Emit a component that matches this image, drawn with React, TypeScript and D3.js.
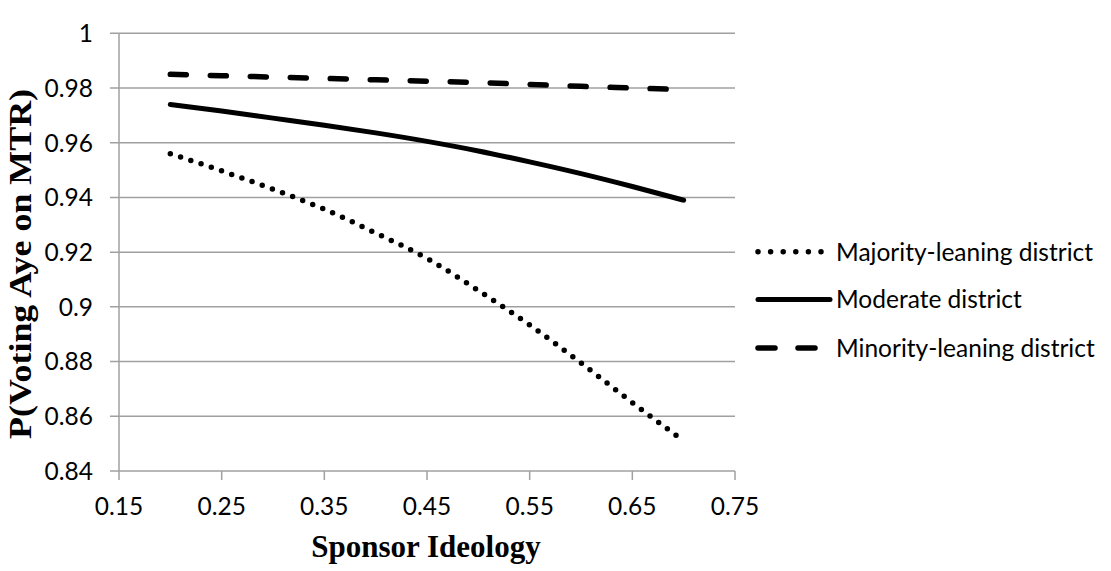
import React from "react";
import * as d3 from "d3";

const ideology = [0.2, 0.25, 0.3, 0.35, 0.4, 0.45, 0.5, 0.55, 0.6, 0.65, 0.7];
const majority = [0.956, 0.9497, 0.943, 0.9357, 0.927, 0.9177, 0.906, 0.8934, 0.8795, 0.865, 0.851];
const moderate = [0.974, 0.9716, 0.969, 0.9664, 0.9636, 0.9605, 0.957, 0.953, 0.9487, 0.944, 0.939];
const minority = [0.985, 0.9845, 0.984, 0.9835, 0.983, 0.9825, 0.982, 0.9813, 0.9806, 0.98, 0.9794];
const xTicks = [0.15, 0.25, 0.35, 0.45, 0.55, 0.65, 0.75];
const yTicks = [0.84, 0.86, 0.88, 0.9, 0.92, 0.94, 0.96, 0.98, 1];
const seriesNames = ["Majority-leaning district", "Moderate district", "Minority-leaning district"];

const W = 1111, H = 571;
const left = 119, right = 735, top = 33.3, bottom = 471;
const grid = "#a0a0a0";
const font = "Lato, 'Open Sans', sans-serif";
const serif = "'Liberation Serif', 'Times New Roman', serif";

export default function App() {
  const x = d3.scaleLinear().domain([0.15, 0.75]).range([left, right]);
  const y = d3.scaleLinear().domain([0.84, 1]).range([bottom, top]);
  const line = d3.line<[number, number]>().x((d) => x(d[0])).y((d) => y(d[1])).curve(d3.curveMonotoneX);
  const mk = (vals: number[]) => line(ideology.map((v, i) => [v, vals[i]] as [number, number])) || "";

  const styles = [
    { dash: "0 10.8", width: 5.5 },
    { dash: "none", width: 5 },
    { dash: "16 24", width: 5.5 },
  ];
  const data = [majority, moderate, minority];
  const legendY = [251.7, 299.5, 348];
  const legendDash = ["0 12.6", "none", "17 23"];

  return (
    <svg width={W} height={H} style={{ position: "absolute", left: 0, top: 0 }}>
      <rect x={0} y={0} width={W} height={H} fill="white" />
      {yTicks.map((t) => (
        <g key={t}>
          <line x1={left - 9} x2={right} y1={y(t)} y2={y(t)} stroke={grid} strokeWidth={1.5} />
          <text x={93} y={y(t)} dy="0.36em" textAnchor="end" fontFamily={font} fontSize={24.5} fill="#000">
            {String(t)}
          </text>
        </g>
      ))}
      <line x1={left} x2={left} y1={top} y2={bottom} stroke={grid} strokeWidth={1.5} />
      {xTicks.map((t) => (
        <g key={t}>
          <line x1={x(t)} x2={x(t)} y1={bottom} y2={bottom + 9} stroke={grid} strokeWidth={1.5} />
          <text x={x(t)} y={515} textAnchor="middle" fontFamily={font} fontSize={24.5} fill="#000">
            {t.toFixed(2)}
          </text>
        </g>
      ))}
      {data.map((vals, i) => (
        <path
          key={i}
          d={mk(vals)}
          fill="none"
          stroke="#000"
          strokeWidth={styles[i].width}
          strokeDasharray={styles[i].dash}
          strokeLinecap="round"
        />
      ))}
      {seriesNames.map((n, i) => (
        <g key={n}>
          <line
            x1={758}
            x2={i === 1 ? 830 : 822}
            y1={legendY[i]}
            y2={legendY[i]}
            stroke="#000"
            strokeWidth={styles[i].width}
            strokeDasharray={legendDash[i]}
            strokeLinecap="round"
          />
          <text x={836} y={legendY[i]} dy="0.36em" fontFamily={font} fontSize={24.5} fill="#000">
            {n}
          </text>
        </g>
      ))}
      <text x={426} y={557} textAnchor="middle" fontFamily={serif} fontWeight="bold" fontSize={31} fill="#000">
        Sponsor Ideology
      </text>
      <text
        transform={`translate(31, 264) rotate(-90)`}
        textAnchor="middle"
        fontFamily={serif}
        fontWeight="bold"
        fontSize={32}
        textLength={350}
        lengthAdjust="spacingAndGlyphs"
        fill="#000"
      >
        P(Voting Aye on MTR)
      </text>
    </svg>
  );
}
